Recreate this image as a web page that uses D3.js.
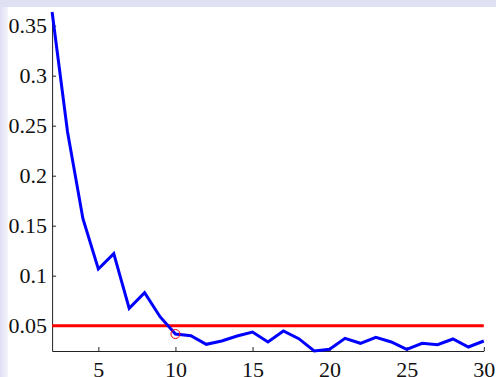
<!DOCTYPE html>
<html><head><meta charset="utf-8">
<script src="https://cdn.jsdelivr.net/npm/d3@7"></script>
<style>html,body{margin:0;padding:0;background:#fff;overflow:hidden}</style>
</head><body>
<script>
const xs = [2,3,4,5,6,7,8,9,10,11,12,13,14,15,16,17,18,19,20,21,22,23,24,25,26,27,28,29,30];
const errors = [0.3637,0.244,0.157,0.1067,0.122,0.0674,0.083,0.059,0.0417,0.040,0.0314,0.0347,0.0397,0.0437,0.0337,0.0447,0.037,0.0247,0.0264,0.0374,0.0324,0.0384,0.0337,0.0264,0.0324,0.031,0.0367,0.0287,0.0347];
const threshold = 0.05;
const markedX = 10;
const xTicks = [5,10,15,20,25,30];
const yTicks = [0.05,0.1,0.15,0.2,0.25,0.3,0.35];
const yTickLabels = ["0.05","0.1","0.15","0.2","0.25","0.3","0.35"];

(function(){
const W = 496, H = 377;
const svg = d3.select("body").append("svg").attr("width", W).attr("height", H);
const defs = svg.append("defs");
const g1 = defs.append("linearGradient").attr("id","lg").attr("x1","0").attr("x2","1");
g1.append("stop").attr("offset","0").attr("stop-color","#dedef2");
g1.append("stop").attr("offset","1").attr("stop-color","#f4f4fb");
svg.append("rect").attr("x",0).attr("y",0).attr("width",W).attr("height",H).attr("fill","#fff");
svg.append("rect").attr("x",0).attr("y",0).attr("width",8).attr("height",H).attr("fill","url(#lg)");
svg.append("rect").attr("x",0).attr("y",0).attr("width",W).attr("height",7).attr("fill","#e0e0f3");

const mLeft = 52.1, mRight = 483.8, mTop = 12, mBottom = 351;
const x = d3.scaleLinear().domain([2,30]).range([mLeft,mRight]);
const y = d3.scaleLinear().domain(d3.extent(errors)).range([mBottom, mTop]);

const ax = svg.append("g").attr("transform",`translate(0,${mBottom})`)
  .call(d3.axisBottom(x).tickValues(xTicks).tickSizeInner(-4).tickSizeOuter(0).tickPadding(12).tickFormat(d3.format("d")));
const ay = svg.append("g").attr("transform",`translate(${mLeft},0)`)
  .call(d3.axisLeft(y).tickValues(yTicks).tickSizeInner(-4).tickSizeOuter(0).tickPadding(5).tickFormat((d,i)=>yTickLabels[i]));
[ax,ay].forEach(a=>{
  a.attr("font-family", "Liberation Serif").attr("font-size", 22);
  a.select(".domain").attr("stroke","#222").attr("stroke-width",1);
  a.selectAll(".tick line").attr("stroke","#222");
  a.selectAll("text").attr("fill","#111");
});
ax.selectAll("text").attr("dy","0.71em").attr("y",10);

svg.append("line").attr("x1",x(2)).attr("x2",x(30)).attr("y1",y(threshold)).attr("y2",y(threshold))
  .attr("stroke","#ff0000").attr("stroke-width",3);

const line = d3.line().x((d,i)=>x(xs[i])).y(d=>y(d));
svg.append("path").datum(errors).attr("d",line).attr("fill","none")
  .attr("stroke","#0000ff").attr("stroke-width",3).attr("stroke-linejoin","miter");

const mi = xs.indexOf(markedX);
svg.append("circle").attr("cx",x(markedX)).attr("cy",y(errors[mi])).attr("r",4.5)
  .attr("fill","none").attr("stroke","#ff0000").attr("stroke-width",1);
})();
</script>
</body></html>
